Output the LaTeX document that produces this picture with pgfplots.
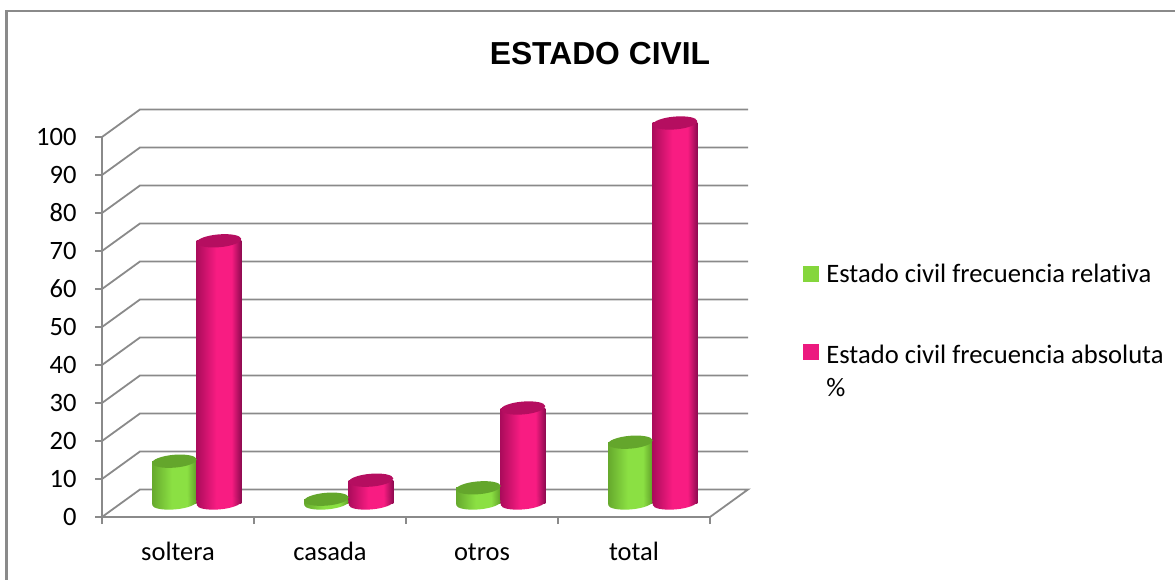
\documentclass[border=0pt]{standalone}
\usepackage{pgfplots}
\usepackage{pgfplotstable}
\usepackage{fontspec}
\pgfplotsset{compat=1.18}
\setmainfont{Carlito}[Ligatures=NoCommon]
\newfontfamily\titlefont{Liberation Sans}

\definecolor{wallgray}{HTML}{8A8A8A}
\definecolor{greenmid}{HTML}{8BE043}
\definecolor{greenleft}{HTML}{66A92D}
\definecolor{greenright}{HTML}{5F9E28}
\definecolor{greentop}{HTML}{64A62C}
\definecolor{greenkey}{HTML}{85D63C}
\definecolor{pinkmid}{HTML}{F81C82}
\definecolor{pinkleft}{HTML}{AC0C5C}
\definecolor{pinkright}{HTML}{8F0A50}
\definecolor{pinktop}{HTML}{B50E60}
\definecolor{pinkkey}{HTML}{EC1A7F}

\pgfdeclarehorizontalshading{greencyl}{100bp}{color(0bp)=(greenleft); color(25bp)=(greenleft); color(47bp)=(greenmid); color(64bp)=(greenmid); color(75bp)=(greenright); color(100bp)=(greenright)}
\pgfdeclarehorizontalshading{pinkcyl}{100bp}{color(0bp)=(pinkleft); color(25bp)=(pinkleft); color(47bp)=(pinkmid); color(64bp)=(pinkmid); color(75bp)=(pinkright); color(100bp)=(pinkright)}

\pgfdeclareplotmark{cap}{%
  \pgfpathellipse{\pgfpointorigin}{\pgfpoint{22.3pt}{1.9pt}}{\pgfpoint{-0.6pt}{6.4pt}}%
  \pgfusepathqfill}
\pgfdeclareplotmark{greenbase}{%
  \pgfpathellipse{\pgfpointorigin}{\pgfpoint{22.3pt}{1.9pt}}{\pgfpoint{-0.6pt}{6.4pt}}%
  \pgfshadepath{greencyl}{0}\pgfusepath{discard}}
\pgfdeclareplotmark{pinkbase}{%
  \pgfpathellipse{\pgfpointorigin}{\pgfpoint{22.3pt}{1.9pt}}{\pgfpoint{-0.6pt}{6.4pt}}%
  \pgfshadepath{pinkcyl}{0}\pgfusepath{discard}}

\pgfplotstableread{
x rel abs base
0 11 69 0
1 1 6 0
2 4 25 0
3 16 100 0
}\civil

% back wall and floor
\pgfplotstableread{
x y
-0.5 0
-0.25 7.24
3.75 7.24
3.5 0
nan nan
-0.5 10
-0.25 17.24
3.75 17.24
nan nan
-0.5 20
-0.25 27.24
3.75 27.24
nan nan
-0.5 30
-0.25 37.24
3.75 37.24
nan nan
-0.5 40
-0.25 47.24
3.75 47.24
nan nan
-0.5 50
-0.25 57.24
3.75 57.24
nan nan
-0.5 60
-0.25 67.24
3.75 67.24
nan nan
-0.5 70
-0.25 77.24
3.75 77.24
nan nan
-0.5 80
-0.25 87.24
3.75 87.24
nan nan
-0.5 90
-0.25 97.24
3.75 97.24
nan nan
-0.5 100
-0.25 107.24
3.75 107.24
}\walls

\begin{document}
\begin{tikzpicture}[x=1pt,y=1pt]
\path[use as bounding box] (0,0) rectangle (1175,579);
\draw[wallgray,line width=2.2pt] (6.5,-3) -- (6.5,568) -- (1178,568);
\begin{axis}[
    at={(102pt,62pt)},
    anchor=south west,
    scale only axis,
    width=608pt,
    height=380pt,
    xmin=-0.5, xmax=3.5,
    ymin=0, ymax=100,
    clip=false,
    unbounded coords=jump,
    axis x line=bottom,
    axis y line=left,
    axis line style={wallgray,line width=1.8pt,-},
    tick align=outside,
    xtick={0,1,2,3},
    xticklabels={soltera,casada,otros,total},
    minor xtick={-0.5,0.5,1.5,2.5,3.5},
    major x tick style={draw=none},
    minor x tick style={wallgray,line width=1.4pt},
    minor tick length=7pt,
    ytick={0,10,...,100},
    y tick style={wallgray,line width=1.4pt},
    major tick length=7pt,
    /pgf/number format/assume math mode=true,
    ticklabel style={font=\fontsize{26.5}{32}\selectfont,text=black},
    x tick label style={text height=18pt,text depth=6pt,anchor=north},
    xticklabel shift=15pt,
    yticklabel shift=15pt,
    title={\titlefont\bfseries\fontsize{31.8}{36}\selectfont ESTADO CIVIL},
    title style={at={(rel axis cs:0.819,1.205)},anchor=center},
    legend style={draw=none,fill=none,at={(rel axis cs:1.148,0.671)},anchor=north west,
      font=\fontsize{26.6}{33}\selectfont,row sep=56pt,legend cell align=left,
      nodes={inner sep=0pt,inner xsep=5pt}},
    legend image code/.code={\fill[#1] (0pt,-7pt) rectangle (15pt,8pt);\path[draw=none,fill=none] (0pt,0pt) -- (18pt,0pt);},
]
\addlegendimage{greenkey}
\addlegendentry{Estado civil frecuencia relativa}
\addlegendimage{pinkkey}
\addlegendentry{\begin{tabular}[t]{@{}l@{}}Estado civil frecuencia absoluta\\\%\end{tabular}}

\addplot[wallgray,line width=1.8pt,forget plot] table[x=x,y=y] {\walls};

% each cylinder is its own plot so that the shading fits one bar
\pgfplotsinvokeforeach{0,1,2,3}{
  % green
  \addplot[only marks,mark=greenbase,xshift=-3.6pt,yshift=14pt,forget plot,restrict x to domain=#1:#1] table[x=x,y=base] {\civil};
  \addplot[ybar,bar width=44.6pt,bar shift=-22.3pt,xshift=18.7pt,yshift=14pt,draw=none,shade,shading=greencyl,forget plot,restrict x to domain=#1:#1] table[x=x,y=rel] {\civil};
  \addplot[only marks,mark=cap,mark options={greentop,fill=greentop},xshift=-3.6pt,yshift=14pt,forget plot,restrict x to domain=#1:#1] table[x=x,y=rel] {\civil};
  % pink
  \addplot[only marks,mark=pinkbase,xshift=41pt,yshift=14pt,forget plot,restrict x to domain=#1:#1] table[x=x,y=base] {\civil};
  \addplot[ybar,bar width=44.6pt,bar shift=22.3pt,xshift=18.7pt,yshift=14pt,draw=none,shade,shading=pinkcyl,forget plot,restrict x to domain=#1:#1] table[x=x,y=abs] {\civil};
  \addplot[only marks,mark=cap,mark options={pinktop,fill=pinktop},xshift=41pt,yshift=14pt,forget plot,restrict x to domain=#1:#1] table[x=x,y=abs] {\civil};
}
\end{axis}
\end{tikzpicture}
\end{document}
